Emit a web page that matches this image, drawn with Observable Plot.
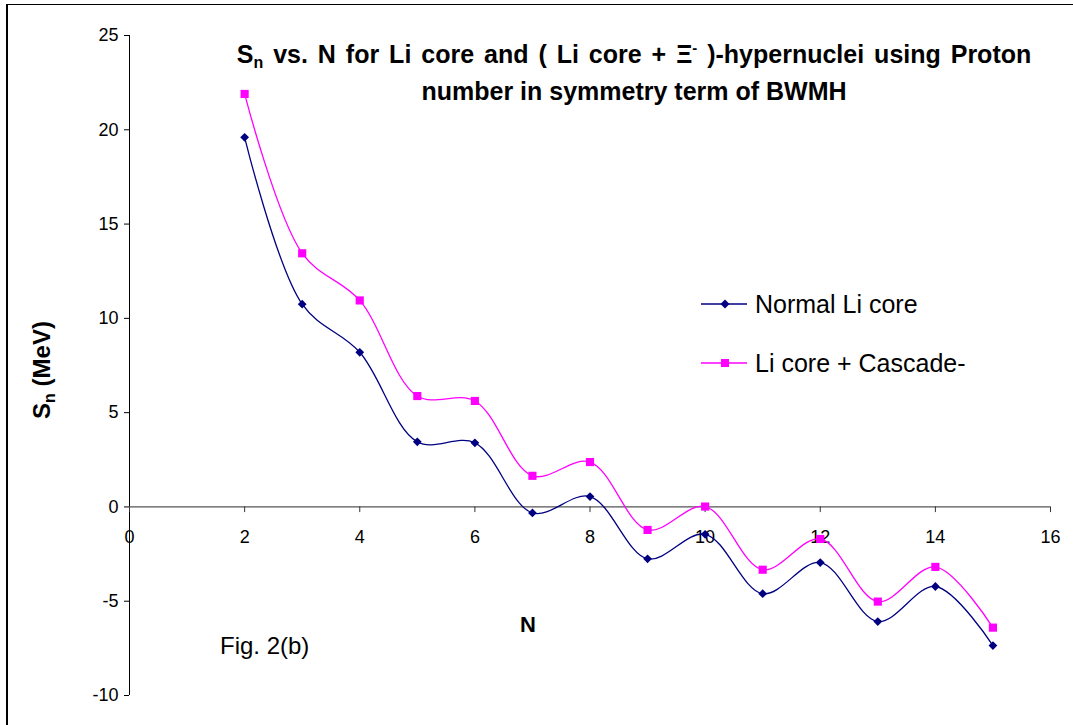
<!DOCTYPE html>
<html>
<head>
<meta charset="utf-8">
<script src="https://cdn.jsdelivr.net/npm/d3@7"></script>
<script src="https://cdn.jsdelivr.net/npm/@observablehq/plot@0.6"></script>
<style>
  html, body { margin: 0; padding: 0; background: #fff; overflow: hidden; }
  body { width: 1073px; height: 725px; position: relative; font-family: "Liberation Sans", Arial, sans-serif; }
  #frame { position: absolute; left: 6px; top: 4px; width: 1200px; height: 800px; border-left: 2px solid #000; border-top: 1px solid #000; }
  #chart { position: absolute; left: 0; top: 0; }
  .ov { position: absolute; color: #000; white-space: nowrap; }
  #title { left: 634px; top: 36px; transform: translateX(-50%); text-align: center; font-weight: bold; font-size: 25px; line-height: 37px; }
  #title .l1 { word-spacing: 3px; }
  #title sub { font-size: 16px; vertical-align: -5px; line-height: 0; }
  #title sup { font-size: 15px; vertical-align: 10px; line-height: 0; }
  #ylabel { left: 42px; top: 370px; transform: translate(-50%, -50%) rotate(-90deg); font-weight: bold; font-size: 24px; }
  #ylabel sub { font-size: 16px; vertical-align: -5px; line-height: 0; }
  #xlabel { left: 528px; top: 612px; transform: translateX(-50%); font-weight: bold; font-size: 22px; }
  #fig { left: 220px; top: 632px; font-size: 24px; }
  #legend { left: 700px; top: 286px; }
  .lrow { display: flex; align-items: center; height: 36px; margin-bottom: 23px; font-size: 25px; }
  .lrow svg { margin-right: 7px; }
</style>
</head>
<body>
<div id="frame"></div>
<div id="chart"></div>
<div class="ov" id="title"><span class="l1">S<sub>n</sub> vs. N for Li core and ( Li core + &#926;<sup>-</sup> )-hypernuclei using Proton</span><br><span class="l2">number in symmetry term of BWMH</span></div>
<div class="ov" id="ylabel">S<sub>n</sub> (MeV)</div>
<div class="ov" id="xlabel">N</div>
<div class="ov" id="fig">Fig. 2(b)</div>
<div class="ov" id="legend"></div>
<script>
// ---- data ----
const N = [2, 3, 4, 5, 6, 7, 8, 9, 10, 11, 12, 13, 14, 15];
const normalLi = [19.6, 10.75, 8.2, 3.45, 3.4, -0.32, 0.55, -2.75, -1.45, -4.6, -2.95, -6.08, -4.22, -7.35];
const cascadeLi = [21.9, 13.45, 10.95, 5.88, 5.62, 1.65, 2.38, -1.22, 0.02, -3.33, -1.7, -5.02, -3.18, -6.4];
const seriesNames = ["Normal Li core", "Li core + Cascade-"];
const seriesColors = ["#000080", "#FF00FF"];
const xTicks = [0, 2, 4, 6, 8, 10, 12, 14, 16];
const yTicks = [-10, -5, 0, 5, 10, 15, 20, 25];

const rows = [];
N.forEach((n, i) => {
  rows.push({N: n, Sn: normalLi[i], series: seriesNames[0]});
  rows.push({N: n, Sn: cascadeLi[i], series: seriesNames[1]});
});

// Excel-like diamond (rotated square)
const diamondSym = {
  draw(ctx, size) {
    const h = Math.sqrt(size) * 0.62;
    ctx.moveTo(0, -h); ctx.lineTo(h, 0); ctx.lineTo(0, h); ctx.lineTo(-h, 0); ctx.closePath();
  }
};
const squareSym = {
  draw(ctx, size) {
    const h = Math.sqrt(size) * 0.5;
    ctx.rect(-h, -h, 2 * h, 2 * h);
  }
};
const symbols = [diamondSym, squareSym];

const chart = Plot.plot({
  width: 1073,
  height: 725,
  marginLeft: 129,
  marginRight: 23,
  marginTop: 35,
  marginBottom: 30,
  style: {fontFamily: "'Liberation Sans', Arial, sans-serif", fontSize: "18px", background: "transparent", color: "#000"},
  x: {domain: [0, 16], axis: null},
  y: {domain: [-10, 25], ticks: yTicks, tickSize: 5, tickPadding: 6, label: null, tickFormat: d => String(d)},
  color: {domain: seriesNames, range: seriesColors},
  marks: [
    Plot.ruleX([0], {stroke: "#000", strokeWidth: 1}),
    Plot.ruleY([0], {stroke: "#555", strokeWidth: 1.2}),
    Plot.ruleX(xTicks, {x: d => d, y1: 0, y2: -0.3, stroke: "#333"}),
    Plot.text(xTicks, {x: d => d, y: 0, dy: 30, text: d => String(d), fontSize: 18}),
    Plot.line(rows, {x: "N", y: "Sn", z: "series", stroke: "series", curve: "catmull-rom", strokeWidth: 1.3}),
    Plot.dot(rows.filter(d => d.series === seriesNames[0]), {x: "N", y: "Sn", fill: seriesColors[0], stroke: "none", symbol: () => symbols[0], r: 4}),
    Plot.dot(rows.filter(d => d.series === seriesNames[1]), {x: "N", y: "Sn", fill: seriesColors[1], stroke: "none", symbol: () => symbols[1], r: 4.6})
  ]
});
document.getElementById("chart").appendChild(chart);

// legend
const legend = document.getElementById("legend");
seriesNames.forEach((name, i) => {
  const row = document.createElement("div");
  row.className = "lrow";
  const marker = i === 0
    ? `<path d="M25,11.5 L29.5,16 L25,20.5 L20.5,16 Z" fill="${seriesColors[i]}"/>`
    : `<rect x="21" y="12" width="8" height="8" fill="${seriesColors[i]}"/>`;
  row.innerHTML = `<svg width="48" height="32"><line x1="1" x2="47" y1="16" y2="16" stroke="${seriesColors[i]}" stroke-width="1.3"/>${marker}</svg><span>${name}</span>`;
  legend.appendChild(row);
});
</script>
</body>
</html>
